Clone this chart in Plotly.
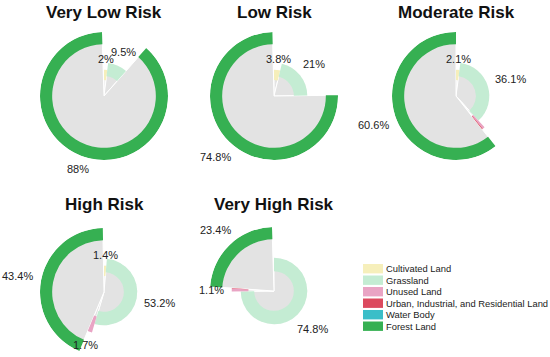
import math
import plotly.graph_objects as go

# ---------------- data ----------------
categories = ["Cultivated Land", "Grassland", "Unused Land",
              "Urban, Industrial, and Residential Land", "Water Body", "Forest Land"]
risk_levels = ["Very Low Risk", "Low Risk", "Moderate Risk", "High Risk", "Very High Risk"]
very_low = [2.0, 9.5, 0.0, 0.0, 0.0, 88.0]
low = [3.8, 21.0, 0.0, 0.0, 0.0, 74.8]
moderate = [2.1, 36.1, 0.9, 0.3, 0.0, 60.6]
high = [1.4, 53.2, 1.7, 0.0, 0.0, 43.4]
very_high = [0.0, 74.8, 1.1, 0.2, 0.0, 23.4]
series = [very_low, low, moderate, high, very_high]

# ---------------- styles ----------------
colors = ["#f6efbb", "#c4ecd3", "#e9a4c4", "#dc4a5f", "#3bbec8", "#36b052"]
gray = "#e3e3e3"
band_outer = [0.41, 0.52, 0.66, 0.66, 0.66, 1.0]
band_inner = [0.25, 0.31, 0.40, 0.40, 0.40, 0.81]

W, H = 550, 357
R_PX = 64
centers = [(104, 96), (274, 96), (456, 96), (104, 292), (274, 291)]
title_y = [13, 13, 13, 205, 205]
FONT = "Arial, Liberation Sans, sans-serif"

def px(x, y):
    """page pixel -> paper coords"""
    return x / W, 1 - y / H

def clamp(v):
    return min(1.0, max(0.0, v))

def text_width(s, size):
    w = 0
    for ch in s:
        if ch.isdigit():
            w += 0.556
        elif ch == ".":
            w += 0.278
        elif ch == "%":
            w += 0.889
        else:
            w += 0.55
    return w * size

fig = go.Figure()
layout_polars = {}
annotations = []
shapes = []

for k, (name, vals) in enumerate(zip(risk_levels, series)):
    sub = "polar" if k == 0 else f"polar{k+1}"
    cx, cy = centers[k]
    x0, y1 = px(cx - R_PX, cy - R_PX)
    x1, y0 = px(cx + R_PX, cy + R_PX)
    layout_polars[sub] = dict(
        domain=dict(x=[clamp(x0), clamp(x1)], y=[clamp(y0), clamp(y1)]),
        bgcolor="rgba(0,0,0,0)",
        hole=0,
        radialaxis=dict(visible=False, range=[0, 1]),
        angularaxis=dict(visible=False, rotation=90, direction="clockwise",
                         showgrid=False, showline=False, ticks=""),
    )
    thetas, widths, outs, ins, cols = [], [], [], [], []
    cum = 0.0
    for i, v in enumerate(vals):
        if v <= 0:
            continue
        w = v * 3.6
        mid = cum * 3.6 + w / 2
        cum += v
        thetas.append(mid)
        widths.append(w)
        outs.append(band_outer[i])
        ins.append(band_inner[i])
        cols.append(colors[i])
        if v >= 1.0:
            txt = f"{v:g}%"
            hw = text_width(txt, 11) / 2
            a = math.radians(mid)
            off = 8 + hw * abs(math.sin(a)) + 2 * abs(math.cos(a))
            rp = band_outer[i] * R_PX + off
            lx = cx + rp * math.sin(a)
            ly = cy - rp * math.cos(a)
            lx = max(lx, hw + 2)
            ax, ay = px(lx, ly)
            annotations.append(dict(
                x=ax, y=ay, xref="paper", yref="paper", text=txt,
                showarrow=False, xanchor="center", yanchor="middle",
                font=dict(family=FONT, size=11, color="#222222")))
    # gray sectors with white separators
    fig.add_trace(go.Barpolar(
        r=outs, theta=thetas, width=widths, base=0,
        marker=dict(color=gray, line=dict(color="white", width=1)),
        subplot=sub, showlegend=False, hoverinfo="skip"))
    # coloured outer bands
    fig.add_trace(go.Barpolar(
        r=[o - b for o, b in zip(outs, ins)], theta=thetas, width=widths, base=ins,
        marker=dict(color=cols, line=dict(width=0)),
        subplot=sub, showlegend=False, hoverinfo="skip"))
    tx, ty = px(cx, title_y[k])
    annotations.append(dict(
        x=tx, y=ty, xref="paper", yref="paper",
        text=f"<b>{name}</b>", showarrow=False, xanchor="center", yanchor="middle",
        font=dict(family=FONT, size=17, color="#111111")))

# manual legend
for i, cat in enumerate(categories):
    yc = 268.7 + i * 11.5
    sx0, sy0 = px(363, yc + 4.7)
    sx1, sy1 = px(383, yc - 4.7)
    shapes.append(dict(type="rect", xref="paper", yref="paper",
                       x0=sx0, x1=sx1, y0=sy0, y1=sy1,
                       fillcolor=colors[i], line=dict(width=0)))
    lx, ly = px(385, yc)
    annotations.append(dict(
        x=lx, y=ly, xref="paper", yref="paper", text=cat,
        showarrow=False, xanchor="left", yanchor="middle", borderpad=0,
        font=dict(family=FONT, size=9.4, color="#222222")))

fig.update_layout(
    width=W, height=H,
    margin=dict(l=0, r=0, t=0, b=0),
    paper_bgcolor="white", plot_bgcolor="white",
    annotations=annotations, shapes=shapes,
    showlegend=False,
    **layout_polars,
)

fig.write_html("out.html", config={"displayModeBar": False},
               post_script="document.body.style.margin='0';")
